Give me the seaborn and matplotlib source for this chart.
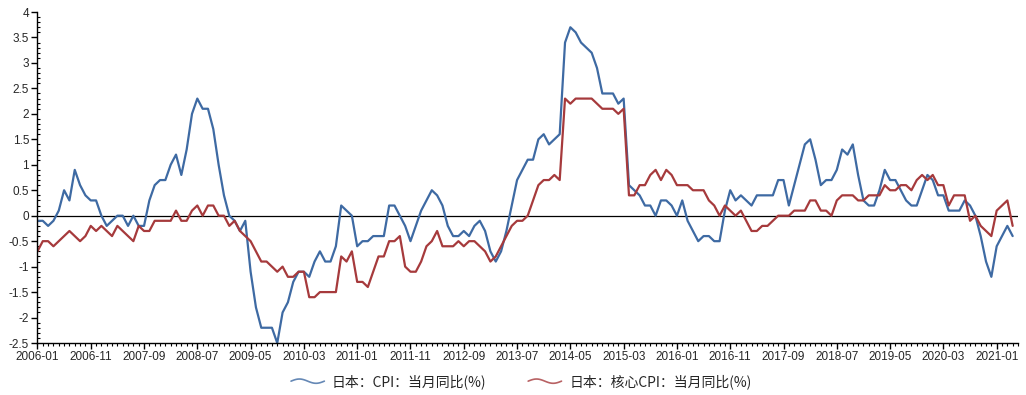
import numpy as np
import pandas as pd
import matplotlib
matplotlib.use("Agg")
import matplotlib.pyplot as plt
import seaborn as sns
from matplotlib.legend_handler import HandlerLine2D
from matplotlib.lines import Line2D
from matplotlib.ticker import MultipleLocator

# monthly data, 2006-01 .. 2021-04
cpi = [
    -0.1, -0.1, -0.2, -0.1, 0.1, 0.5, 0.3, 0.9, 0.6, 0.4, 0.3, 0.3,
    0.0, -0.2, -0.1, 0.0, 0.0, -0.2, 0.0, -0.2, -0.2, 0.3, 0.6, 0.7,
    0.7, 1.0, 1.2, 0.8, 1.3, 2.0, 2.3, 2.1, 2.1, 1.7, 1.0, 0.4,
    0.0, -0.1, -0.3, -0.1, -1.1, -1.8, -2.2, -2.2, -2.2, -2.5, -1.9, -1.7,
    -1.3, -1.1, -1.1, -1.2, -0.9, -0.7, -0.9, -0.9, -0.6, 0.2, 0.1, 0.0,
    -0.6, -0.5, -0.5, -0.4, -0.4, -0.4, 0.2, 0.2, 0.0, -0.2, -0.5, -0.2,
    0.1, 0.3, 0.5, 0.4, 0.2, -0.2, -0.4, -0.4, -0.3, -0.4, -0.2, -0.1,
    -0.3, -0.7, -0.9, -0.7, -0.3, 0.2, 0.7, 0.9, 1.1, 1.1, 1.5, 1.6,
    1.4, 1.5, 1.6, 3.4, 3.7, 3.6, 3.4, 3.3, 3.2, 2.9, 2.4, 2.4,
    2.4, 2.2, 2.3, 0.6, 0.5, 0.4, 0.2, 0.2, 0.0, 0.3, 0.3, 0.2,
    0.0, 0.3, -0.1, -0.3, -0.5, -0.4, -0.4, -0.5, -0.5, 0.1, 0.5, 0.3,
    0.4, 0.3, 0.2, 0.4, 0.4, 0.4, 0.4, 0.7, 0.7, 0.2, 0.6, 1.0,
    1.4, 1.5, 1.1, 0.6, 0.7, 0.7, 0.9, 1.3, 1.2, 1.4, 0.8, 0.3,
    0.2, 0.2, 0.5, 0.9, 0.7, 0.7, 0.5, 0.3, 0.2, 0.2, 0.5, 0.8,
    0.7, 0.4, 0.4, 0.1, 0.1, 0.1, 0.3, 0.2, 0.0, -0.4, -0.9, -1.2,
    -0.6, -0.4, -0.2, -0.4,
]
core_cpi = [
    -0.7, -0.5, -0.5, -0.6, -0.5, -0.4, -0.3, -0.4, -0.5, -0.4, -0.2, -0.3,
    -0.2, -0.3, -0.4, -0.2, -0.3, -0.4, -0.5, -0.2, -0.3, -0.3, -0.1, -0.1,
    -0.1, -0.1, 0.1, -0.1, -0.1, 0.1, 0.2, 0.0, 0.2, 0.2, 0.0, 0.0,
    -0.2, -0.1, -0.3, -0.4, -0.5, -0.7, -0.9, -0.9, -1.0, -1.1, -1.0, -1.2,
    -1.2, -1.1, -1.1, -1.6, -1.6, -1.5, -1.5, -1.5, -1.5, -0.8, -0.9, -0.7,
    -1.3, -1.3, -1.4, -1.1, -0.8, -0.8, -0.5, -0.5, -0.4, -1.0, -1.1, -1.1,
    -0.9, -0.6, -0.5, -0.3, -0.6, -0.6, -0.6, -0.5, -0.6, -0.5, -0.5, -0.6,
    -0.7, -0.9, -0.8, -0.6, -0.4, -0.2, -0.1, -0.1, 0.0, 0.3, 0.6, 0.7,
    0.7, 0.8, 0.7, 2.3, 2.2, 2.3, 2.3, 2.3, 2.3, 2.2, 2.1, 2.1,
    2.1, 2.0, 2.1, 0.4, 0.4, 0.6, 0.6, 0.8, 0.9, 0.7, 0.9, 0.8,
    0.6, 0.6, 0.6, 0.5, 0.5, 0.5, 0.3, 0.2, 0.0, 0.2, 0.1, 0.0,
    0.1, -0.1, -0.3, -0.3, -0.2, -0.2, -0.1, 0.0, 0.0, 0.0, 0.1, 0.1,
    0.1, 0.3, 0.3, 0.1, 0.1, 0.0, 0.3, 0.4, 0.4, 0.4, 0.3, 0.3,
    0.4, 0.4, 0.4, 0.6, 0.5, 0.5, 0.6, 0.6, 0.5, 0.7, 0.8, 0.7,
    0.8, 0.6, 0.6, 0.2, 0.4, 0.4, 0.4, -0.1, 0.0, -0.2, -0.3, -0.4,
    0.1, 0.2, 0.3, -0.2,
]
months = pd.date_range("2006-01", periods=len(cpi), freq="MS").strftime("%Y-%m").tolist()
tick_labels = months[::10]

label_cpi = "日本：CPI：当月同比(%)"
label_core = "日本：核心CPI：当月同比(%)"
blue = "#3e6aa3"
red = "#a63a3c"

df = pd.DataFrame({"month": months, "idx": np.arange(len(months)),
                   label_cpi: cpi, label_core: core_cpi})
long = df.melt(id_vars=["month", "idx"], var_name="series", value_name="value")

sns.set_style("white")
plt.rcParams["font.family"] = ["Liberation Sans", "Noto Sans CJK SC", "DejaVu Sans"]

fig = plt.figure(figsize=(10.26, 3.95), dpi=100)
ax = fig.add_axes([0.0365, 0.1316, 0.9557, 0.838])

sns.lineplot(data=long, x="idx", y="value", hue="series",
             palette={label_cpi: blue, label_core: red},
             linewidth=1.6, legend=False, ax=ax)
ax.axhline(0, color="black", linewidth=0.9, zorder=1)

ax.set_xlim(0, len(months))
ax.set_ylim(-2.5, 4)
ax.set_xticks(np.arange(0, len(months), 10))
ax.set_xticklabels(tick_labels)
ax.xaxis.set_minor_locator(MultipleLocator(1))
ax.set_yticks(np.arange(-2.5, 4.01, 0.5))
ax.set_yticklabels([f"{v:g}" for v in np.arange(-2.5, 4.01, 0.5)])
ax.yaxis.set_minor_locator(MultipleLocator(0.1))
ax.set_xlabel("")
ax.set_ylabel("")

for side in ["top", "right"]:
    ax.spines[side].set_visible(False)
for side in ["left", "bottom"]:
    ax.spines[side].set_color("black")
    ax.spines[side].set_linewidth(1.0)

ax.tick_params(axis="both", which="major", direction="out", length=4, width=1,
               color="black", labelsize=8.5, pad=2, bottom=True, left=True)
ax.tick_params(axis="x", which="minor", direction="out", length=2.5, width=0.8,
               color="black", bottom=True)
ax.tick_params(axis="y", which="minor", direction="in", length=2.5, width=0.8,
               color="black", left=True)


class WaveHandler(HandlerLine2D):
    def create_artists(self, legend, orig_handle, xdescent, ydescent,
                       width, height, fontsize, trans):
        t = np.linspace(0, 1, 40)
        xs = -xdescent + t * width
        ys = -ydescent + height / 2 + np.sin(t * 2 * np.pi) * height * 0.22
        line = Line2D(xs, ys, color=orig_handle.get_color(), linewidth=1.2, alpha=0.8)
        line.set_transform(trans)
        return [line]


handles = [Line2D([], [], color=blue), Line2D([], [], color=red)]
fig.legend(handles, [label_cpi, label_core], loc="center", bbox_to_anchor=(0.508, 0.034),
           ncol=2, frameon=False, handlelength=2.4, handletextpad=0.55,
           columnspacing=3.0, prop={"family": ["Noto Sans CJK SC", "DejaVu Sans"], "size": 10},
           handler_map={Line2D: WaveHandler()})

fig.savefig("out.png", dpi=100)
